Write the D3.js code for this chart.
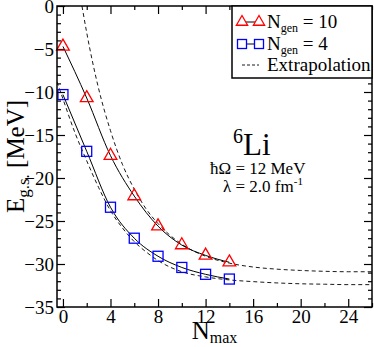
<!DOCTYPE html>
<html>
<head>
<meta charset="utf-8">
<script src="https://cdn.jsdelivr.net/npm/d3@7"></script>
<style>
  body { margin: 0; background: #fff; }
</style>
</head>
<body>
<div id="chart"></div>
<script>
// data
const nmax = [0, 2, 4, 6, 8, 10, 12, 14]
const eGen10 = [-4.7, -10.7, -17.4, -22.1, -25.6, -27.8, -29.0, -29.8]
const eGen4 = [-10.3, -16.9, -23.4, -27.0, -29.1, -30.4, -31.2, -31.75]

// dashed extrapolation curves, sampled by eye
const extrapN10 = [1.6, 2, 3, 4, 5, 6, 7, 8, 10, 12, 14, 16, 18, 20, 22, 24, 26]
const extrapE10 = [0, -3.1, -9.6, -14.5, -18.4, -21.3, -23.6, -25.3, -27.7, -29.1, -29.9, -30.35, -30.6, -30.75, -30.85, -30.9, -30.9]
const extrapN4 = [-0.5, 0, 1, 2, 3, 4, 5, 6, 7, 8, 10, 12, 14, 16, 18, 20, 22, 24, 26]
const extrapE4 = [-8.8, -10.8, -14.7, -18.0, -21.1, -23.8, -25.8, -27.4, -28.6, -29.6, -30.9, -31.5, -31.85, -32.05, -32.2, -32.3, -32.35, -32.4, -32.4]

const xMajor = [0, 4, 8, 12, 16, 20, 24]
const xMinor = [2, 6, 10, 14, 18, 22, 26]
const yMajor = [0, -5, -10, -15, -20, -25, -30, -35]
const yMinor = d3.range(-34, 0).filter(v => v % 5 !== 0)

const FONT = 'Liberation Serif, Times New Roman, Times, DejaVu Serif, serif'

const W = 374
const H = 347
const margin = { top: 6, right: 2, bottom: 40, left: 57 }
const width = W - margin.left - margin.right
const height = H - margin.top - margin.bottom

const svg = d3.select('#chart')
  .append('svg')
  .attr('width', W)
  .attr('height', H)
  .attr('font-family', FONT)

const g = svg.append('g')
  .attr('transform', `translate(${margin.left}, ${margin.top})`)

const x = d3.scaleLinear().domain([-0.5, 26]).range([0, width])
const y = d3.scaleLinear().domain([-35, 0]).range([height, 0])

g.append('clipPath').attr('id', 'clip')
  .append('rect').attr('width', width).attr('height', height)

// axes: ticks point inward on all four sides
function styleAxis (sel) {
  sel.attr('font-family', FONT).attr('font-size', 19)
  sel.select('.domain').remove()
  sel.selectAll('line').attr('stroke', '#000').attr('stroke-width', 1.2)
  sel.selectAll('text').attr('fill', '#000')
}

g.append('g')
  .attr('transform', `translate(0, ${height})`)
  .call(d3.axisBottom(x).tickValues(xMajor).tickSizeInner(-8).tickSizeOuter(0).tickPadding(2).tickFormat(d3.format('d')))
  .call(styleAxis)
g.append('g')
  .attr('transform', `translate(0, ${height})`)
  .call(d3.axisBottom(x).tickValues(xMinor).tickSizeInner(-4).tickSizeOuter(0).tickFormat(''))
  .call(styleAxis)
g.append('g')
  .call(d3.axisTop(x).tickValues(xMajor).tickSizeInner(-8).tickSizeOuter(0).tickFormat(''))
  .call(styleAxis)
g.append('g')
  .call(d3.axisTop(x).tickValues(xMinor).tickSizeInner(-4).tickSizeOuter(0).tickFormat(''))
  .call(styleAxis)

g.append('g')
  .call(d3.axisLeft(y).tickValues(yMajor).tickSizeInner(-8).tickSizeOuter(0).tickPadding(3).tickFormat(d3.format('d')))
  .call(styleAxis)
g.append('g')
  .call(d3.axisLeft(y).tickValues(yMinor).tickSizeInner(-4).tickSizeOuter(0).tickFormat(''))
  .call(styleAxis)
g.append('g')
  .attr('transform', `translate(${width}, 0)`)
  .call(d3.axisRight(y).tickValues(yMajor).tickSizeInner(-8).tickSizeOuter(0).tickFormat(''))
  .call(styleAxis)
g.append('g')
  .attr('transform', `translate(${width}, 0)`)
  .call(d3.axisRight(y).tickValues(yMinor).tickSizeInner(-4).tickSizeOuter(0).tickFormat(''))
  .call(styleAxis)

// curves
const plot = g.append('g').attr('clip-path', 'url(#clip)')

const curveLine = d3.line()
  .x(d => x(d[0]))
  .y(d => y(d[1]))
  .curve(d3.curveMonotoneX)

plot.append('path')
  .datum(d3.zip(extrapN10, extrapE10))
  .attr('d', curveLine)
  .attr('fill', 'none').attr('stroke', '#000').attr('stroke-width', 0.9)
  .attr('stroke-dasharray', '4,3')
plot.append('path')
  .datum(d3.zip(extrapN4, extrapE4))
  .attr('d', curveLine)
  .attr('fill', 'none').attr('stroke', '#000').attr('stroke-width', 0.9)
  .attr('stroke-dasharray', '4,3')

plot.append('path')
  .datum(d3.zip(nmax, eGen10))
  .attr('d', curveLine)
  .attr('fill', 'none').attr('stroke', '#000').attr('stroke-width', 1)
plot.append('path')
  .datum(d3.zip(nmax, eGen4))
  .attr('d', curveLine)
  .attr('fill', 'none').attr('stroke', '#000').attr('stroke-width', 1)

const tri = d3.symbol().type(d3.symbolTriangle).size(70)

g.append('g')
  .selectAll('path')
  .data(d3.zip(nmax, eGen10))
  .join('path')
  .attr('d', tri)
  .attr('transform', d => `translate(${x(d[0])}, ${y(d[1])})`)
  .attr('fill', 'none').attr('stroke', '#ff0000').attr('stroke-width', 1.3)

g.append('g')
  .selectAll('rect')
  .data(d3.zip(nmax, eGen4))
  .join('rect')
  .attr('x', d => x(d[0]) - 5)
  .attr('y', d => y(d[1]) - 5)
  .attr('width', 10)
  .attr('height', 10)
  .attr('fill', 'none').attr('stroke', '#0000ff').attr('stroke-width', 1.3)

// frame
g.append('rect')
  .attr('width', width).attr('height', height)
  .attr('fill', 'none').attr('stroke', '#000').attr('stroke-width', 1.5)

// legend
const lg = g.append('g').attr('transform', 'translate(175, 0)')
lg.append('rect')
  .attr('width', width - 175).attr('height', 72)
  .attr('fill', '#fff').attr('stroke', '#000').attr('stroke-width', 1.5)

lg.append('line').attr('x1', 10).attr('x2', 27).attr('y1', 16).attr('y2', 16).attr('stroke', '#000')
lg.selectAll('.lt').data([10, 27]).join('path').attr('class', 'lt')
  .attr('d', d3.symbol().type(d3.symbolTriangle).size(55))
  .attr('transform', d => `translate(${d}, 16)`)
  .attr('fill', '#fff').attr('stroke', '#ff0000').attr('stroke-width', 1.3)

lg.append('line').attr('x1', 10).attr('x2', 27).attr('y1', 38).attr('y2', 38).attr('stroke', '#000')
lg.selectAll('.ls').data([10, 27]).join('rect').attr('class', 'ls')
  .attr('x', d => d - 4.5).attr('y', 33.5).attr('width', 9).attr('height', 9)
  .attr('fill', '#fff').attr('stroke', '#0000ff').attr('stroke-width', 1.3)

lg.append('line').attr('x1', 10).attr('x2', 27).attr('y1', 59).attr('y2', 59)
  .attr('stroke', '#000').attr('stroke-width', 0.9).attr('stroke-dasharray', '3,2')

const legText = function (yy, sub, rest) {
  const t = lg.append('text').attr('x', 35).attr('y', yy).attr('font-size', 19)
  t.append('tspan').text('N')
  t.append('tspan').attr('dy', 4).attr('font-size', 12).text(sub)
  t.append('tspan').attr('dy', -4).text(rest)
}
legText(22, 'gen', ' = 10')
legText(44, 'gen', ' = 4')
lg.append('text').attr('x', 35).attr('y', 65).attr('font-size', 19).text('Extrapolation')

// annotation
const ann = g.append('g')
const li = ann.append('text').attr('x', 176).attr('y', 149).attr('font-size', 31)
li.append('tspan').attr('dy', -12).attr('font-size', 20).text('6')
li.append('tspan').attr('dy', 12).text('Li')

ann.append('text').attr('x', 153).attr('y', 168).attr('font-size', 17).text('ħΩ = 12 MeV')
const lam = ann.append('text').attr('x', 166).attr('y', 186).attr('font-size', 17)
lam.append('tspan').text('λ = 2.0 fm')
lam.append('tspan').attr('dy', -7).attr('font-size', 11).text('-1')

// axis titles
const xt = svg.append('text')
  .attr('x', margin.left + width / 2).attr('y', 339)
  .attr('text-anchor', 'middle').attr('font-size', 25)
xt.append('tspan').text('N')
xt.append('tspan').attr('dy', 4).attr('font-size', 16).text('max')

const yt = svg.append('text')
  .attr('transform', `translate(24, ${margin.top + height / 2}) rotate(-90)`)
  .attr('text-anchor', 'middle').attr('font-size', 25)
yt.append('tspan').text('E')
yt.append('tspan').attr('dy', 5).attr('font-size', 17).text('g.s.')
yt.append('tspan').attr('dy', -5).text(' [MeV]')
</script>
</body>
</html>
